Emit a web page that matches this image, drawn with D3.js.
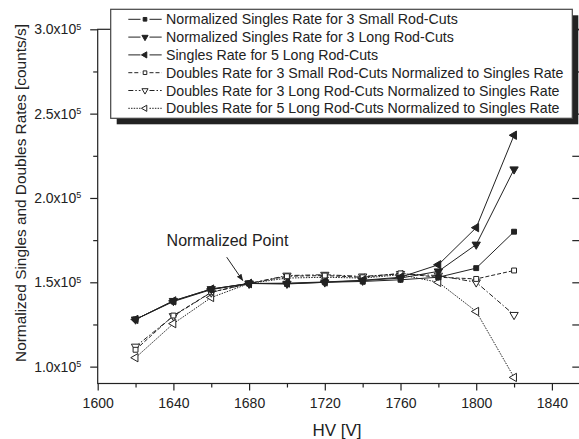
<!DOCTYPE html>
<html>
<head>
<meta charset="utf-8">
<script src="https://cdn.jsdelivr.net/npm/d3@7"></script>
<style>
  body { margin: 0; background: #fff; }
  svg { display: block; font-family: "Liberation Sans", Arial, sans-serif; }
</style>
</head>
<body>
<svg id="chart" width="579" height="439"></svg>
<script>
// HV settings [V]
const hv = [1620, 1640, 1660, 1680, 1700, 1720, 1740, 1760, 1780, 1800, 1820];

// rates [counts/s]
const singlesSmall3 = [128000, 138600, 145700, 149300, 149000, 150000, 150500, 151500, 153000, 158400, 180000];
const singlesLong3 = [128000, 139000, 146000, 149300, 149200, 150000, 151000, 152500, 156500, 172400, 217000];
const singlesLong5 = [128000, 139000, 146000, 149300, 149500, 150200, 151200, 153000, 160400, 182400, 237200];
const doublesSmall3 = [110000, 130300, 144100, 149300, 153600, 154000, 153000, 155300, 153000, 152000, 157000];
const doublesLong3 = [111900, 130000, 144000, 149300, 154000, 154500, 153500, 155000, 154000, 150000, 130700];
const doublesLong5 = [105300, 125500, 141000, 149300, 152500, 153000, 152500, 154500, 150000, 132700, 93600];

const xMajor = [1600, 1640, 1680, 1720, 1760, 1800, 1840];
const xMinor = [1620, 1660, 1700, 1740, 1780, 1820];
const yMajor = [100000, 150000, 200000, 250000, 300000];
const yMinor = [125000, 175000, 225000, 275000];

const series = [
  { name: "Normalized Singles Rate for 3 Small Rod-Cuts", values: singlesSmall3, symbol: "square", filled: true, dash: null },
  { name: "Normalized Singles Rate for 3 Long Rod-Cuts", values: singlesLong3, symbol: "down", filled: true, dash: null },
  { name: "Singles Rate for 5 Long Rod-Cuts", values: singlesLong5, symbol: "left", filled: true, dash: null },
  { name: "Doubles Rate for 3 Small Rod-Cuts Normalized to Singles Rate", values: doublesSmall3, symbol: "square", filled: false, dash: "4,2" },
  { name: "Doubles Rate for 3 Long Rod-Cuts Normalized to Singles Rate", values: doublesLong3, symbol: "down", filled: false, dash: "5,2,1.5,2" },
  { name: "Doubles Rate for 5 Long Rod-Cuts Normalized to Singles Rate", values: doublesLong5, symbol: "left", filled: false, dash: "1.5,1.2" },
];

const ink = "#222";
const svg = d3.select("#chart");

const x = d3.scaleLinear().domain([1600, 1855]).range([97.7, 580.3]);
const y = d3.scaleLinear().domain([90000, 300000]).range([383.5, 29.3]);

// frame
svg.append("rect")
  .attr("x", x.range()[0]).attr("y", y.range()[1])
  .attr("width", x.range()[1] - x.range()[0])
  .attr("height", y.range()[0] - y.range()[1])
  .attr("fill", "none").attr("stroke", ink).attr("stroke-width", 1.2);

const axisStyle = g => {
  g.select(".domain").remove();
  g.selectAll("line").attr("stroke", ink).attr("stroke-width", 1.2);
  g.selectAll("text").attr("fill", ink).attr("font-size", 14).attr("font-family", null);
};

// bottom axis
svg.append("g")
  .attr("transform", `translate(0,${y.range()[0]})`)
  .call(d3.axisBottom(x).tickValues(xMajor).tickSize(7).tickPadding(8).tickFormat(d3.format("d")))
  .call(axisStyle);
svg.append("g")
  .attr("transform", `translate(0,${y.range()[0]})`)
  .call(d3.axisBottom(x).tickValues(xMinor).tickSize(4).tickFormat(""))
  .call(axisStyle);

// left axis
const yAx = svg.append("g")
  .attr("transform", `translate(${x.range()[0]},0)`)
  .call(d3.axisLeft(y).tickValues(yMajor).tickSize(7.5).tickPadding(9))
  .call(axisStyle);
yAx.selectAll(".tick text")
  .text(null)
  .each(function(d) {
    const t = d3.select(this);
    t.append("tspan").text((d / 1e5).toFixed(1) + "x10");
    t.append("tspan").attr("dy", "-0.5em").attr("font-size", 9).text("5");
  });
svg.append("g")
  .attr("transform", `translate(${x.range()[0]},0)`)
  .call(d3.axisLeft(y).tickValues(yMinor).tickSize(4.5).tickFormat(""))
  .call(axisStyle);

// right axis, ticks inward
svg.append("g")
  .attr("transform", `translate(${x.range()[1]},0)`)
  .call(d3.axisLeft(y).tickValues(yMajor.concat(yMinor)).tickSize(8).tickFormat(""))
  .call(axisStyle);

// axis titles
svg.append("text")
  .attr("x", 337).attr("y", 436)
  .attr("text-anchor", "middle").attr("font-size", 17).attr("fill", ink)
  .text("HV [V]");
svg.append("text")
  .attr("transform", "translate(26,193) rotate(-90)")
  .attr("text-anchor", "middle").attr("font-size", 15.4).attr("fill", ink)
  .text("Normalized Singles and Doubles Rates [counts/s]");

// marks
const drawMarker = (g, s, cx, cy, k = 1) => {
  const d = s.symbol === "square"
    ? d3.symbol().type(d3.symbolSquare).size(24 * k)()
    : d3.symbol().type(d3.symbolTriangle).size(30 * k)();
  const rot = s.symbol === "down" ? 180 : s.symbol === "left" ? -90 : 0;
  g.append("path")
    .attr("d", d)
    .attr("fill", s.filled ? ink : "#fff")
    .attr("stroke", ink).attr("stroke-width", 1)
    .attr("transform", `translate(${cx},${cy}) rotate(${rot})`);
};

const line = d3.line().x((d, i) => x(hv[i])).y(d => y(d));
const plot = svg.append("g");
series.slice().reverse().forEach(s => {
  plot.append("path")
    .attr("d", line(s.values))
    .attr("fill", "none").attr("stroke", ink)
    .attr("stroke-width", 1)
    .attr("stroke-dasharray", s.dash);
});
series.slice().reverse().forEach(s => {
  const g = plot.append("g");
  s.values.forEach((v, i) => drawMarker(g, s, x(hv[i]), y(v)));
});

// annotation
const px = x(1680), py = y(singlesSmall3[3]);
svg.append("defs").append("marker")
  .attr("id", "arrow").attr("viewBox", "0 0 10 10")
  .attr("refX", 9).attr("refY", 5)
  .attr("markerWidth", 7).attr("markerHeight", 7)
  .attr("orient", "auto")
  .append("path").attr("d", "M0,1 L10,5 L0,9 z").attr("fill", ink);
svg.append("line")
  .attr("x1", px - 22.4).attr("y1", py - 26.3)
  .attr("x2", px - 6.4).attr("y2", py - 3)
  .attr("stroke", ink).attr("stroke-width", 1)
  .attr("marker-end", "url(#arrow)");
svg.append("text")
  .attr("x", px - 21.6).attr("y", py - 37)
  .attr("text-anchor", "middle").attr("font-size", 16).attr("fill", ink)
  .text("Normalized Point");

// legend
const lg = { x: 110.7, y: 9.3, w: 461.6, h: 109, row0: 19.3, step: 17.8 };
svg.append("rect")
  .attr("x", lg.x + 6).attr("y", lg.y + 6)
  .attr("width", lg.w).attr("height", lg.h)
  .attr("fill", ink);
svg.append("rect")
  .attr("x", lg.x).attr("y", lg.y)
  .attr("width", lg.w).attr("height", lg.h)
  .attr("fill", "#fff").attr("stroke", "#444").attr("stroke-width", 1.2);
series.forEach((s, i) => {
  const cy = lg.row0 + i * lg.step;
  const g = svg.append("g");
  [[128.3, 140.5], [149.5, 161.7]].forEach(([a, b]) => {
    g.append("line")
      .attr("x1", a).attr("x2", b).attr("y1", cy).attr("y2", cy)
      .attr("stroke", ink).attr("stroke-width", 1)
      .attr("stroke-dasharray", s.dash);
  });
  drawMarker(g, s, 145, cy, 0.55);
  g.append("text")
    .attr("x", 166).attr("y", cy + 5)
    .attr("font-size", 14.2).attr("fill", ink)
    .text(s.name);
});
</script>
</body>
</html>
